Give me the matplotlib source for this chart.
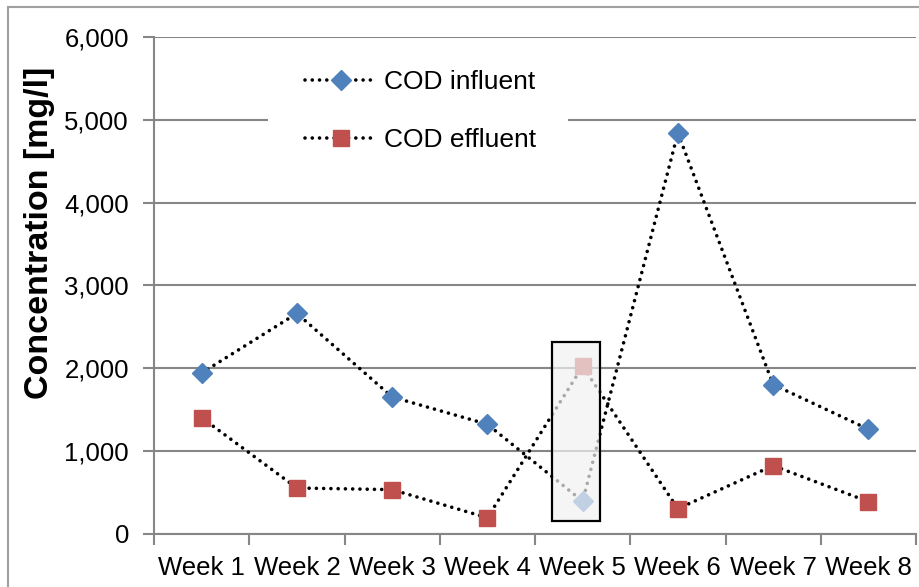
import matplotlib
matplotlib.use("Agg")
import matplotlib.pyplot as plt
from matplotlib.patches import Rectangle
from matplotlib.lines import Line2D
import numpy as np

plt.rcParams['font.family'] = ['Liberation Sans', 'DejaVu Sans']

weeks = ["Week 1", "Week 2", "Week 3", "Week 4", "Week 5", "Week 6", "Week 7", "Week 8"]
cod_influent = [1940, 2660, 1650, 1320, 390, 4840, 1800, 1260]
cod_effluent = [1400, 550, 530, 190, 2020, 300, 820, 385]
y_ticks = [0, 1000, 2000, 3000, 4000, 5000, 6000]
y_tick_labels = ["0", "1,000", "2,000", "3,000", "4,000", "5,000", "6,000"]

W, H = 919, 587
fig = plt.figure(figsize=(W / 100, H / 100), dpi=100)
ax_bottom, ax_top = 533.5, 37
ax_h = ax_bottom - ax_top
ax = fig.add_axes([154 / W, 1 - ax_bottom / H, (916 - 154) / W, ax_h / H])

grid_c = "#868686"
x = np.arange(len(weeks)) + 0.5
dot = (0, (0.01, 2.0))
ax.plot(x, cod_influent, color="black", lw=2.6, ls=dot, dash_capstyle="round",
        marker="D", ms=10.5, mfc="#4F81BD", mec="#4F81BD", zorder=3, label="COD influent")
ax.plot(x, cod_effluent, color="black", lw=2.6, ls=dot, dash_capstyle="round",
        marker="s", ms=11.5, mfc="#C0504D", mec="#C0504D", zorder=3, label="COD effluent")

ax.set_xlim(0, len(weeks))
ax.set_ylim(0, 6000)
ax.set_yticks(y_ticks)
ax.set_yticklabels(y_tick_labels)
ax.set_xticks(np.arange(len(weeks) + 1))
ax.set_xticklabels([])
ax.set_xticks(x, minor=True)
ax.set_xticklabels(weeks, minor=True)
ax.tick_params(axis="x", which="major", length=8, width=1.5, color=grid_c, direction="out")
ax.tick_params(axis="x", which="minor", length=0, pad=16, labelsize=18.5)
ax.tick_params(axis="y", length=8, width=1.5, color=grid_c, pad=10, labelsize=18.5)

ax.yaxis.grid(True, color=grid_c, lw=1.5, zorder=0)
ax.set_axisbelow(True)
for s in ["top", "right"]:
    ax.spines[s].set_visible(False)
for s in ["left", "bottom"]:
    ax.spines[s].set_color(grid_c)
    ax.spines[s].set_linewidth(1.5)

ax.set_ylabel("Concentration [mg/l]", fontsize=24.5, fontweight="bold")
ax.yaxis.set_label_coords(-0.130, 0.605)

# highlight box around week 5
ax.add_patch(Rectangle((4.18, 150), 0.5, 2170, facecolor="#f2f2f2", alpha=0.7,
                       edgecolor="none", zorder=4))
ax.add_patch(Rectangle((4.18, 150), 0.5, 2170, facecolor="none",
                       edgecolor="black", lw=1.6, zorder=5))

# legend background (white box, no border)
def ax_px(xp, yp):
    return ((xp - 154) / 762, (ax_bottom - yp) / ax_h)

bx0, by0 = ax_px(268, 165)
bx1, by1 = ax_px(568, 48)
ax.add_patch(Rectangle((bx0, by0), bx1 - bx0, by1 - by0, transform=ax.transAxes,
                       facecolor="white", edgecolor="none", zorder=2.5))

leg = ax.legend(loc="upper left", bbox_to_anchor=ax_px(305, 70),
                frameon=False, fontsize=19, handlelength=2.7, handletextpad=0.3,
                labelspacing=1.3, borderpad=0, borderaxespad=0)
leg.set_zorder(6)

# figure border (left and top visible)
fig.add_artist(Line2D([8 / W, 8 / W], [1 - 7 / H, 0], color="#a0a0a0", lw=1.5))
fig.add_artist(Line2D([8 / W, 1], [1 - 7 / H, 1 - 7 / H], color="#a0a0a0", lw=1.5))

fig.savefig("out.png", dpi=100)
